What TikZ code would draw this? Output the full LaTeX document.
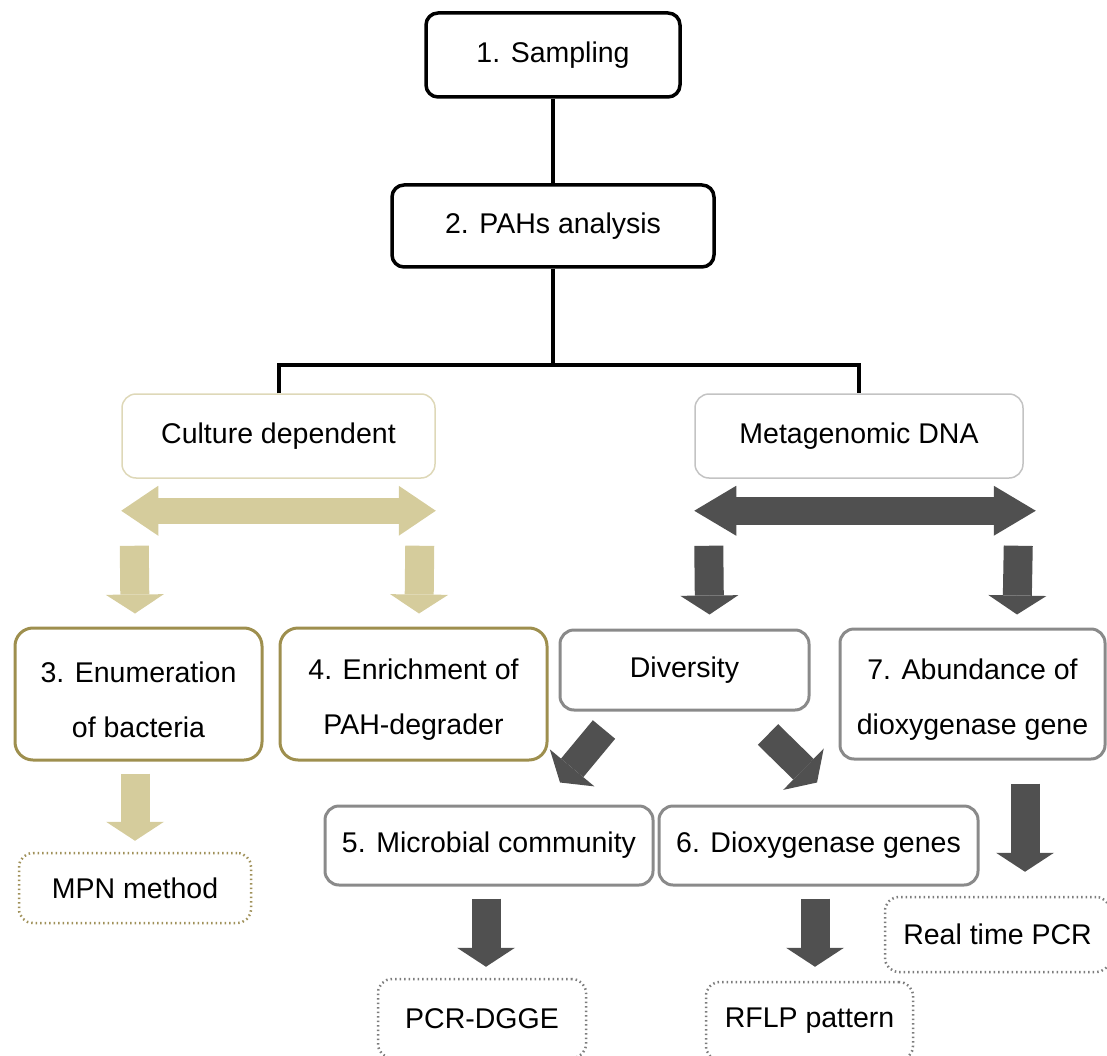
\documentclass[tikz,border=0pt]{standalone}
\usepackage{fontspec}
\setmainfont{Liberation Sans}
\usetikzlibrary{arrows.meta}

\definecolor{tanfill}{RGB}{213,204,156}
\definecolor{paletan}{RGB}{222,216,184}
\definecolor{boxolive}{RGB}{158,143,78}
\definecolor{dotolive}{RGB}{160,145,90}
\definecolor{palegray}{RGB}{195,195,195}
\definecolor{midgray}{RGB}{138,138,138}
\definecolor{dotgray}{RGB}{125,125,125}
\definecolor{darkfill}{RGB}{80,80,80}

\begin{document}
\begin{tikzpicture}
[
						x=1pt, y=-1pt,
						every node/.style = {font=\fontsize{28.5}{55}\selectfont, inner sep=0pt, align=center},
						mainbox/.style = {draw, line width=3.5pt, rounded corners=12pt},
						tanhead/.style = {draw=paletan, line width=1.5pt, rounded corners=14pt},
						grayhead/.style = {draw=palegray, line width=1.5pt, rounded corners=14pt},
						olivebox/.style = {draw=boxolive, line width=3pt, rounded corners=18pt},
						graybox/.style = {draw=midgray, line width=3pt, rounded corners=14pt},
						dotolivebox/.style = {draw=dotolive, line width=2.5pt, dash pattern=on 1.5pt off 3pt, rounded corners=14pt},
						dotgraybox/.style = {draw=dotgray, line width=2.5pt, dash pattern=on 1.5pt off 3pt, rounded corners=14pt},
						conn/.style = {draw, line width=4pt},
						tanblk/.style = {draw=tanfill, line width=29pt, arrows={-Triangle[length=19pt, width=58pt, line width=0pt]}},
						darkblk/.style = {draw=darkfill, line width=29pt, arrows={-Triangle[length=19pt, width=58pt, line width=0pt]}},
						tandbl/.style = {draw=tanfill, line width=26pt, arrows={Triangle[length=37pt, width=50pt, line width=0pt]-Triangle[length=37pt, width=50pt, line width=0pt]}},
						darkdbl/.style = {draw=darkfill, line width=28pt, arrows={Triangle[length=42pt, width=50pt, line width=0pt]-Triangle[length=42pt, width=50pt, line width=0pt]}}
					]
\useasboundingbox (0,0) rectangle (1107,1056);

% top of the tree
\node[mainbox, minimum width=254pt, minimum height=84pt] (samp) at (553,55) {1. Sampling};
\node[mainbox, minimum width=322pt, minimum height=82pt] (pahs) at (553,226) {2. PAHs analysis};
\coordinate (split) at (553,365);

% two branches
\node[tanhead, minimum width=313pt, minimum height=84pt] (culture) at (278.5,436) {Culture dependent};
\node[grayhead, minimum width=328pt, minimum height=84pt] (meta) at (859,436) {Metagenomic DNA};

\node[olivebox, minimum width=247pt, minimum height=132pt] (enum) at (138.5,694) {\rule{0pt}{32pt}3. Enumeration\\of bacteria};
\node[olivebox, minimum width=267pt, minimum height=132pt] (enrich) at (413.5,694) {\rule{0pt}{32pt}4. Enrichment of\\PAH-degrader};
\node[graybox, minimum width=249pt, minimum height=80pt] (divers) at (684.5,670) {Diversity};
\node[graybox, minimum width=265pt, minimum height=130pt] (abund) at (972.5,694) {\rule{0pt}{32pt}7. Abundance of\\dioxygenase gene};
\node[graybox, minimum width=328pt, minimum height=79pt] (micro) at (489,845.5) {5. Microbial community};
\node[graybox, minimum width=319pt, minimum height=79pt] (dioxy) at (818.5,845.5) {6. Dioxygenase genes};

% methods
\node[dotolivebox, minimum width=232pt, minimum height=70pt] (mpn) at (135,888) {MPN method};
\node[dotgraybox, minimum width=208pt, minimum height=79pt] (pcr) at (482,1018.5) {PCR-DGGE};
\node[dotgraybox, minimum width=207pt, minimum height=78pt] (rflp) at (809.5,1021) {RFLP pattern};
\node[dotgraybox, minimum width=225pt, minimum height=75pt] (rtpcr) at (997.5,934.5) {Real time PCR};

% lines
\draw[conn] (samp.south) -- (pahs.north);
\draw[conn] (pahs.south) -- (split);
\draw[conn] (culture.north) |- (split) -| (meta.north);

% block arrows
\draw[tandbl] ([yshift=-32pt]culture.south west) -- ([yshift=-32pt]culture.south east);
\draw[darkdbl] ([yshift=-32pt]meta.south west) -- ([xshift=12pt,yshift=-32pt]meta.south east);
\draw[tanblk] ([xshift=13pt,yshift=-67pt]culture.south west) -- ([xshift=-3.5pt,yshift=13pt]enum.north);
\draw[tanblk] ([xshift=-16pt,yshift=-67pt]culture.south east) -- ([xshift=5.5pt,yshift=13pt]enrich.north);
\draw[darkblk] ([xshift=14.5pt,yshift=-67pt]meta.south west) -- ([xshift=25pt,yshift=14pt]divers.north);
\draw[darkblk] ([xshift=-5.5pt,yshift=-67pt]meta.south east) -- ([xshift=44.5pt,yshift=13pt]abund.north);
\draw[darkblk] ([xshift=-80.5pt,yshift=-18pt]divers.south) -- ([xshift=71pt,yshift=22pt]micro.north);
\draw[darkblk] ([xshift=83.5pt,yshift=-23pt]divers.south) -- ([xshift=-1.5pt,yshift=22pt]dioxy.north);
\draw[tanblk] ([xshift=-3.5pt,yshift=-12pt]enum.south) -- ([yshift=11pt]mpn.north);
\draw[darkblk] ([xshift=-3pt,yshift=-12pt]micro.south) -- ([xshift=4pt,yshift=11pt]pcr.north);
\draw[darkblk] ([xshift=-3.5pt,yshift=-12pt]dioxy.south) -- ([xshift=5.5pt,yshift=14pt]rflp.north);
\draw[darkblk] ([xshift=52.5pt,yshift=-23pt]abund.south) -- ([xshift=27.5pt,yshift=24pt]rtpcr.north);
\end{tikzpicture}
\end{document}
